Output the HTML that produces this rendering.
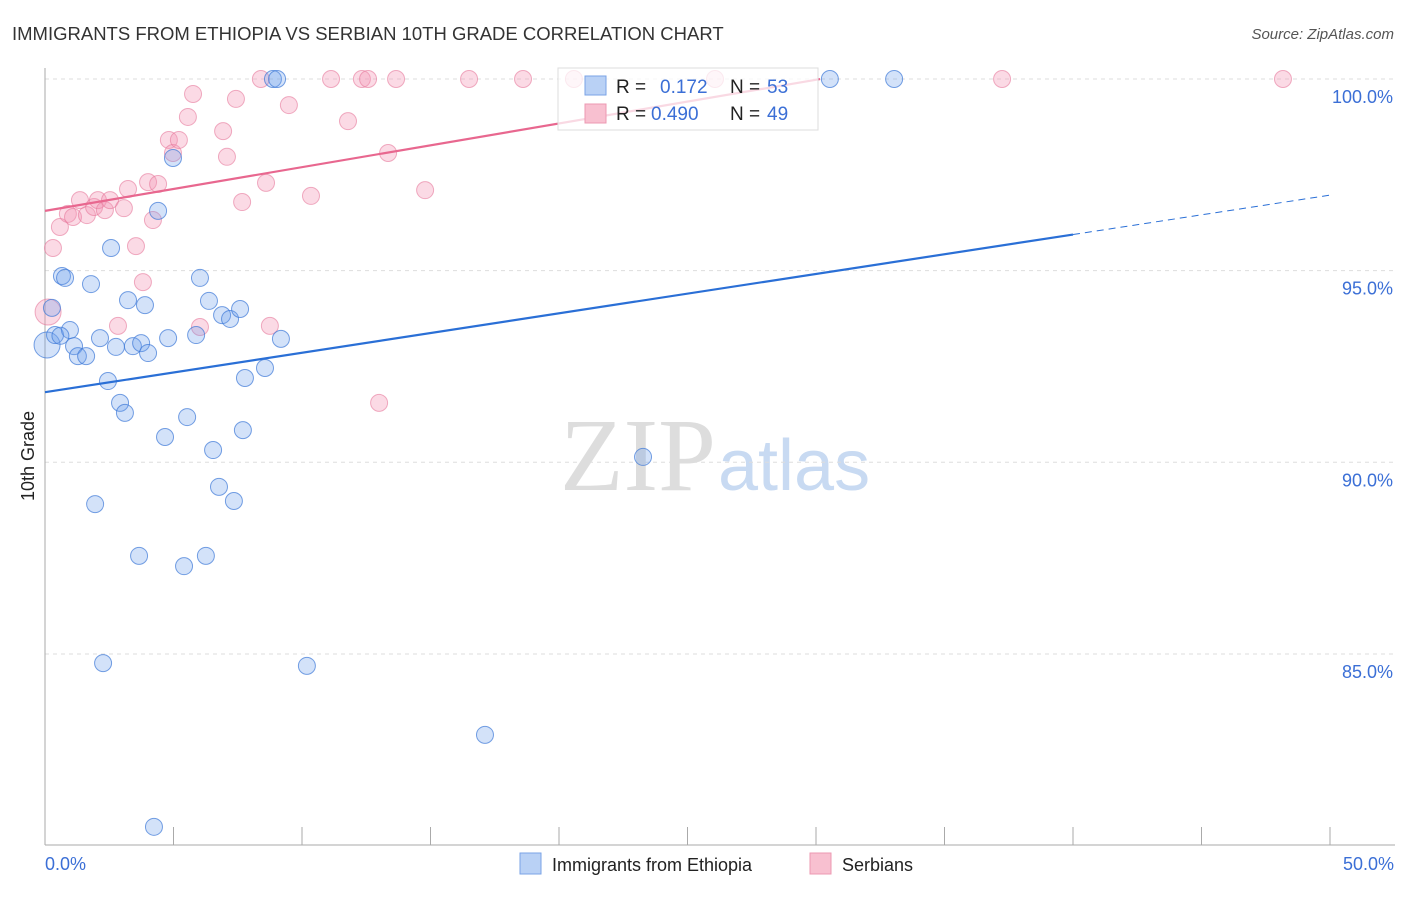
<!DOCTYPE html>
<html><head><meta charset="utf-8"><style>
body{margin:0;background:#fff;font-family:"Liberation Sans",sans-serif}
</style></head><body>
<svg width="1406" height="892" viewBox="0 0 1406 892" xmlns="http://www.w3.org/2000/svg">
<text x="12" y="40" font-size="18.5" fill="#333">IMMIGRANTS FROM ETHIOPIA VS SERBIAN 10TH GRADE CORRELATION CHART</text>
<text x="1394" y="39" font-size="15" fill="#555" font-style="italic" text-anchor="end">Source: ZipAtlas.com</text>
<text x="716" y="490" font-size="104" fill="#ddd" text-anchor="end" font-family="Liberation Serif,serif">ZIP</text>
<text x="718" y="490" font-size="72" fill="#c8daf2">atlas</text>
<g id="grid"></g>
<g id="axes"></g>
<g id="pts"></g>
<g id="lines"></g>
<text transform="translate(34,456) rotate(-90)" font-size="18" fill="#222" text-anchor="middle">10th Grade</text>
<text x="45" y="870" font-size="18" fill="#3b6fd6">0.0%</text>
<text x="1394" y="870" font-size="18" fill="#3b6fd6" text-anchor="end">50.0%</text>
<g>
<rect x="558" y="68" width="260" height="62" fill="rgba(255,255,255,0.75)" stroke="#ddd"/>
<rect x="585" y="76" width="21" height="19" fill="#b9d1f5" stroke="#7aa3e6"/>
<rect x="585" y="104" width="21" height="19" fill="#f8c0d0" stroke="#ec98b2"/>
<text x="616" y="93" font-size="19" fill="#222">R = </text><text x="660" y="93" font-size="19" fill="#3b6fd6">0.172</text>
<text x="730" y="93" font-size="19" fill="#222">N = </text><text x="767" y="93" font-size="19" fill="#3b6fd6">53</text>
<text x="616" y="120" font-size="19" fill="#222">R = </text><text x="651" y="120" font-size="19" fill="#3b6fd6">0.490</text>
<text x="730" y="120" font-size="19" fill="#222">N = </text><text x="767" y="120" font-size="19" fill="#3b6fd6">49</text>
</g>
<g>
<rect x="520" y="853" width="21" height="21" fill="#b9d1f5" stroke="#7aa3e6"/>
<text x="552" y="871" font-size="18" fill="#222">Immigrants from Ethiopia</text>
<rect x="810" y="853" width="21" height="21" fill="#f8c0d0" stroke="#ec98b2"/>
<text x="842" y="871" font-size="18" fill="#222">Serbians</text>
</g>
</svg>
<script>
const yTicks=[100,95,90,85];
const yTickLabels=["100.0%","95.0%","90.0%","85.0%"];
const xTicks=[0,5,10,15,20,25,30,35,40,45,50];
const blueX=[0.08,0.27,0.39,0.66,0.78,0.97,1.13,1.28,1.6,1.79,1.95,2.14,2.26,2.45,2.57,2.76,2.92,3.11,3.23,3.42,3.66,3.74,3.89,4.01,4.24,4.4,4.67,4.79,4.98,5.41,5.53,5.88,6.03,6.26,6.38,6.54,6.77,6.89,7.2,7.35,7.59,7.7,7.78,8.56,8.87,9.03,9.18,10.19,17.12,23.27,30.54,33.04,0.6];
const blueY=[93.06,94.03,93.32,94.86,94.81,93.45,93.03,92.77,92.77,94.65,88.91,93.24,84.76,92.12,95.59,93.01,91.55,91.29,94.23,93.03,87.56,93.11,94.1,92.85,80.49,96.56,90.66,93.24,97.94,87.29,91.18,93.32,94.81,87.56,94.21,90.32,89.36,93.84,93.74,88.99,94.0,90.84,92.2,92.46,100,100,93.22,84.69,82.89,90.14,100,100,93.3];
const pinkX=[0.31,0.12,0.58,0.89,1.09,1.36,1.63,1.91,2.06,2.33,2.53,2.84,3.07,3.23,3.54,3.81,4.01,4.2,4.4,4.82,4.98,5.21,5.56,5.76,6.03,6.93,7.08,7.43,7.67,8.4,8.6,8.75,9.49,10.35,11.13,11.79,12.33,12.57,13.0,13.35,13.66,14.79,16.5,18.6,20.58,26.07,37.24,48.17];
const pinkY=[95.59,93.92,96.14,96.48,96.4,96.84,96.45,96.66,96.84,96.58,96.84,93.56,96.63,97.13,95.64,94.7,97.31,96.32,97.26,98.41,98.07,98.41,99.01,99.61,93.53,98.64,97.97,99.48,96.79,100,97.29,93.56,99.32,96.95,100,98.9,100,100,91.55,98.07,100,97.1,100,100,100,100,100,100];
const blueBig=[0];const pinkBig=[1];
const blueTrend=[91.83,0.1028,40];
const pinkTrend=[96.56,0.114,30.16];
const NS="http://www.w3.org/2000/svg";
const sx=v=>45+v*25.7, sy=v=>79+(100-v)*38.33;
function mk(t,a,p){const e=document.createElementNS(NS,t);for(const k in a)e.setAttribute(k,a[k]);document.getElementById(p).appendChild(e);return e;}
yTicks.forEach((t,i)=>{
 const l=mk('line',{x1:45,x2:1395,y1:sy(t),y2:sy(t),stroke:'#ddd','stroke-dasharray':'4,4'},'grid');
 
 
 const tx=mk('text',{x:1393,y:sy(t)+24,'font-size':18,fill:'#3b6fd6','text-anchor':'end'},'grid');
 tx.textContent=yTickLabels[i];
 
 
});
const ax=mk('line',{x1:45,x2:45,y1:68,y2:845,stroke:'#aaa'},'axes');


const bx=mk('line',{x1:45,x2:1395,y1:845,y2:845,stroke:'#aaa'},'axes');


xTicks.forEach(t=>{
 const l=mk('line',{x1:sx(t),x2:sx(t),y1:827,y2:845,stroke:'#aaa'},'axes');
 
 
});
function pts(X,Y,big,fill,stroke,name){
 X.forEach((x,i)=>{
  const c=mk('circle',{cx:sx(x),cy:sy(Y[i]),r:big.includes(i)?13:8.5,fill:fill,stroke:stroke,'stroke-width':1},'pts');
  
  
 });
}
pts(pinkX,pinkY,pinkBig,'rgba(244,150,180,0.35)','rgba(230,120,155,0.6)','serbian-point');
pts(blueX,blueY,blueBig,'rgba(110,160,235,0.3)','rgba(60,120,215,0.7)','ethiopia-point');
function trend(T,color,name,dash){
 const l=mk('line',{x1:sx(0),y1:sy(T[0]),x2:sx(T[2]),y2:sy(T[0]+T[1]*T[2]),stroke:color,'stroke-width':2.2},'lines');
 
 
 if(dash){const d=mk('line',{x1:sx(T[2]),y1:sy(T[0]+T[1]*T[2]),x2:sx(50),y2:sy(T[0]+T[1]*50),stroke:color,'stroke-width':1,'stroke-dasharray':'7,5'},'lines');
 
 }
}
trend(blueTrend,'#2a6fd6','ethiopia-trendline',true);
trend(pinkTrend,'#e8678f','serbian-trendline',false);
</script>
</body></html>
